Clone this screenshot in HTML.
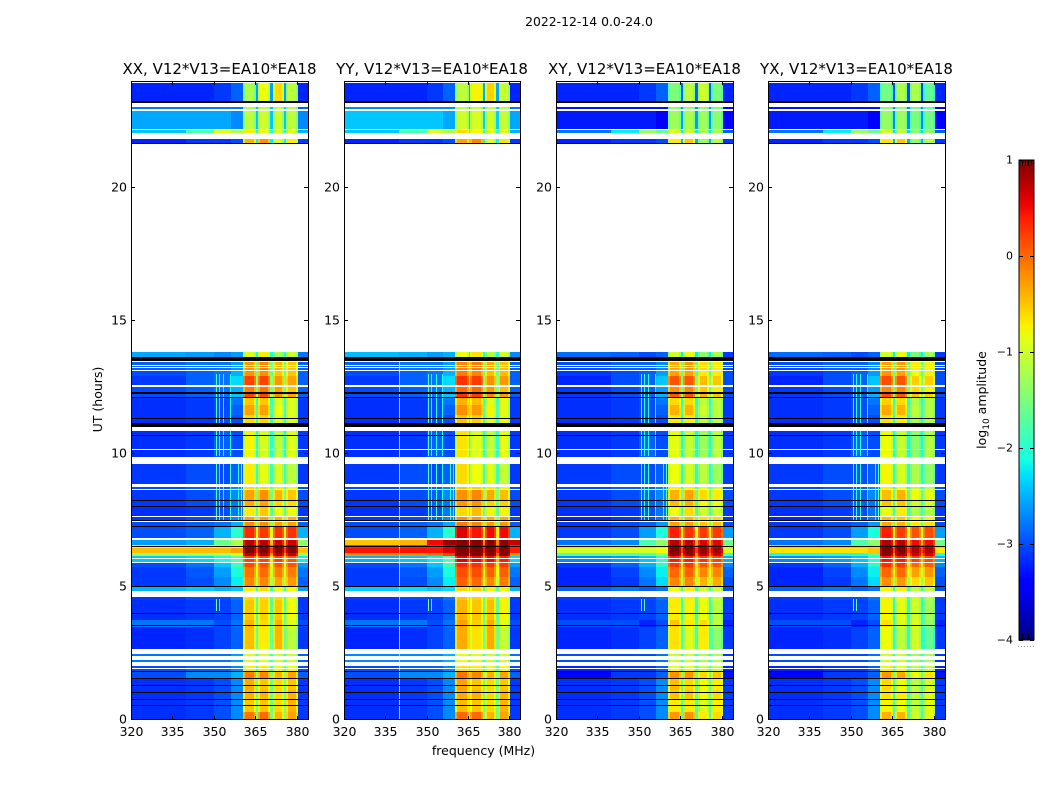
<!DOCTYPE html>
<html lang="en">
<head>
<meta charset="utf-8">
<title>2022-12-14 spectrogram</title>
<style>
html,body{margin:0;padding:0;background:#fff;}
#chart{display:block;width:1050px;height:800px;font-family:"DejaVu Sans","Liberation Sans",sans-serif;fill:#000;}
.cell{shape-rendering:crispEdges;}
</style>
</head>
<body>
<svg id="chart" xmlns="http://www.w3.org/2000/svg" width="1050" height="800" viewBox="0 0 1050 800">
  <defs>
    <linearGradient id="jet-gradient" x1="0" y1="1" x2="0" y2="0"></linearGradient>
  </defs>
  <text x="589" y="26" font-size="12.4" text-anchor="middle">2022-12-14 0.0-24.0</text>
  <text x="483.5" y="755" font-size="12.5" text-anchor="middle">frequency (MHz)</text>
  <text transform="translate(102 399.5) rotate(-90)" font-size="12.5" text-anchor="middle">UT (hours)</text>
  <g id="panels"></g>
  <g id="colorbar"></g>
</svg>
<script>
// ---------- axis data ----------
var panelTitles = ['XX, V12*V13=EA10*EA18', 'YY, V12*V13=EA10*EA18', 'XY, V12*V13=EA10*EA18', 'YX, V12*V13=EA10*EA18'];
var freqTicks = [320, 335, 350, 365, 380];
var hourTicks = [0, 5, 10, 15, 20];
var colorTicks = [1, 0, -1, -2, -3, -4];
var freqRange = [320, 384];
var hourRange = [0, 24];
var colorRange = [-4, 1];

// ---------- heatmap data: frequency segments (MHz) ----------
var segmentNames = ['low', 'lowmid', 'rfi', 'shoulder', 'band1', 'band2', 'band3', 'band4', 'gap', 'tail'];
var segmentStart = [320, 340, 350, 356, 360.5, 365.8, 371.2, 376.2, null, 380.4];
var segmentEnd = [340, 350, 356, 360.5, 365.3, 370.4, 375.4, 380.4, null, 384];
var gapStart = [365.3, 370.4, 375.4];
var gapEnd = [365.8, 371.2, 376.2];
// the passband edges read a little fainter than the passband centres
var bandEdgeDrop = -0.3;
var bandEdgeWidth = 0.7;

// ---------- time rows (UT hours) ----------
var rowStart = [0,.30,.75,1.13,1.54,1.80,2.03,2.48,2.67,3.49,3.76,4.51,4.62,5.00,5.37,5.75,5.90,6.16,6.27,6.46,6.57,6.76,6.84,7.25,7.44,7.66,8.04,8.26,8.64,8.86,9.61,9.88,10.85,11.12,11.46,11.83,12.13,12.24,12.54,12.92,13.11,13.48,21.67,22.05,22.16,22.91,23.25];
var rowEnd = [.30,.75,1.13,1.54,1.80,2.03,2.48,2.67,3.49,3.76,4.51,4.62,5.00,5.37,5.75,5.90,6.16,6.27,6.46,6.57,6.76,6.84,7.25,7.44,7.66,8.04,8.26,8.64,8.86,9.61,9.88,10.85,11.12,11.46,11.83,12.13,12.24,12.54,12.92,13.11,13.48,13.82,21.82,22.16,22.91,23.02,23.92];

// log10 amplitude per row, columns follow segmentNames (XX polarisation)
var levelsXX = [
[-3.15,-3.1,-3,-2.7,-.05,0,-.4,-.3,-1.5,-3.1],
[-3.15,-3.1,-3,-2.7,-.5,-.5,-.6,-.4,-1.5,-3.1],
[-3.15,-3.1,-3,-2.7,-.4,-.4,-.6,-.4,-1.5,-3.1],
[-3.15,-3.1,-3,-2.7,-.35,-.5,-.6,-.5,-1.5,-3.1],
[-3,-2.7,-2.7,-2.5,-.1,-.15,-.4,-.3,-1.4,-2.9],
[-3,-2.9,-2.9,-2.7,-.7,-.7,-.8,-.8,-1.7,-3],
[-2.8,-2.8,-2.8,-2.6,-.9,-.9,-1,-1,-1.8,-2.9],
[-3,-3,-2.9,-2.7,-.9,-.9,-1,-1,-1.8,-3],
[-3.2,-3.15,-3.05,-2.9,-.45,-.7,-.4,-1.1,-1.6,-3.1],
[-2.8,-2.8,-3,-2.8,-.4,-.6,-.4,-.9,-1.6,-3],
[-3.15,-3.1,-3.05,-2.9,-.5,-.55,-.5,-.8,-1.7,-3.1],
[-3.1,-3,-3,-2.8,-.6,-.6,-.6,-.8,-1.7,-3.1],
[-2.5,-2.4,-2.5,-2.4,-.7,-.6,-.8,-.8,-1.8,-2.6],
[-3.1,-3,-2.7,-2.2,-.15,-.15,-.3,-.25,-1.2,-2.9],
[-3.1,-2.95,-2.6,-2.1,-.05,0,-.1,-.1,-1,-2.8],
[-3,-2.8,-2.4,-1.9,.15,.15,.1,.1,-.8,-2.6],
[-2.4,-2.3,-2.1,-1.7,.2,.2,.2,.1,-.7,-2.2],
[-1.3,-1.3,-1.2,-.9,.8,.8,.8,.7,-.3,-1.3],
[-.45,-.45,-.45,-.3,1,1,1,.95,.2,-.5],
[-1,-1,-1,-.8,.95,.95,.95,.85,0,-1],
[-2.6,-2.5,-1.6,-1.2,.75,.75,.7,.65,-.5,-1.4],
[-2.9,-2.8,-2.5,-2.1,.5,.5,.45,.4,-.8,-2.4],
[-3,-2.9,-2.5,-2,.35,.25,.3,.3,-.9,-2.5],
[-3,-2.9,-2.8,-2.5,-.2,-.2,-.3,-.3,-1.4,-2.9],
[-3.1,-3,-2.9,-2.7,-.3,-.3,-.4,-.4,-1.5,-3],
[-3.15,-3.1,-3,-2.8,-.7,-.5,-.8,-.8,-1.7,-3.1],
[-3.1,-3,-2.9,-2.8,-.35,-.3,-.6,-.6,-1.6,-3],
[-3.1,-3,-2.9,-2.7,-.3,-.2,-.4,-.5,-1.5,-3],
[-3,-2.9,-2.9,-2.7,-.6,-.6,-.7,-.8,-1.7,-3],
[-3.1,-3,-3,-2.9,-.7,-.85,-.9,-1.1,-1.9,-3.1],
[-3,-2.9,-2.9,-2.9,-.7,-.85,-.9,-1.1,-1.9,-3],
[-3.15,-3.1,-2.9,-3,-.75,-.95,-1.1,-.9,-2,-3.1],
[-3,-2.9,-2.9,-2.9,-.75,-.7,-1,-.9,-2,-3],
[-3.15,-3.1,-3,-3,-.6,-.6,-.9,-.9,-1.9,-3.1],
[-3.15,-3.1,-3,-2.9,-.3,-.3,-.8,-.9,-1.8,-3.1],
[-3.15,-3.1,-3,-2.8,-.5,-.5,-.9,-.9,-1.9,-3.1],
[-3,-2.9,-2.8,-2.4,.2,.2,-.2,-.3,-1.3,-2.9],
[-3,-2.9,-2.8,-2.5,-.1,-.05,-.3,-.5,-1.5,-2.9],
[-3.1,-2.9,-2.8,-2.3,.2,.2,-.25,-.3,-1.4,-2.9],
[-3,-2.9,-2.8,-2.5,-.2,-.2,-.5,-.5,-1.6,-2.9],
[-2.9,-2.8,-2.8,-2.6,-.25,-.15,-.4,-.5,-1.6,-2.9],
[-2.55,-2.6,-2.7,-2.6,-.9,-.7,-1.2,-1,-2.1,-2.8],
[-3.2,-3.1,-3.1,-3,-.4,-.2,-.9,-.7,-2.2,-3.1],
[-2.4,-1.8,-.9,-1.2,-.7,-.8,-.9,-.9,-2,-2.5],
[-2.55,-2.55,-2.55,-2.7,-1.1,-1,-1,-1.1,-2.4,-2.7],
[-2.8,-2.8,-2.8,-2.8,-1.2,-1.1,-1.1,-1.2,-2.4,-2.9],
[-3.2,-3.2,-3.1,-2.9,-1.2,-.8,-.6,-1.1,-2.6,-3.2]
];

// per-row changes for the other polarisations (background, passband)
var backgroundDeltaYY = [0,0,0,0,0,0,.1,0,0,0,0,0,.1,0,0,0,-.1,1.1,.9,1.35,2.1,0,0,0,0,0,0,0,0,0,0,0,0,0,0,0,0,0,0,0,0,.1,0,0,.15,.1,0];
var bandDeltaYY = [0,0,0,0,0,0,0,0,.05,.05,.05,.05,.05,.15,.15,.15,.3,.3,.2,.2,.3,.3,.2,.05,.05,.05,.05,.05,.05,.05,.05,.05,.05,.05,.05,.05,.05,.05,.05,.05,.05,.05,.05,.05,.05,.05,.05];
var backgroundDeltaXY = [0,0,0,0,-.4,-.2,-.2,-.1,0,-.2,0,0,-.4,-.1,-.1,-.1,-.3,-.5,-.5,-.4,-.2,0,-.1,-.1,-.1,0,0,0,0,0,0,0,-.1,0,0,0,-.1,-.1,-.1,-.1,-.1,-.3,0,-.4,-.7,-.5,0];
var bandDeltaXY = [-.2,-.2,-.1,-.1,-.1,-.1,-.1,-.1,-.2,-.1,-.2,-.1,-.1,0,.05,.1,.2,.1,0,0,0,0,.05,-.1,-.1,-.1,-.1,-.1,-.1,-.1,-.1,-.1,-.1,-.1,-.1,-.1,-.1,-.1,-.1,-.1,-.1,-.1,-.3,-.2,-.2,-.2,-.3];
var backgroundDeltaYX = [0,0,0,0,-.4,-.2,-.2,-.1,0,-.2,0,0,-.4,-.1,-.1,-.1,-.3,-.8,-.2,-.7,-.2,0,-.1,-.1,-.1,0,0,0,0,0,0,0,-.1,0,0,0,-.1,-.1,-.1,-.1,-.1,-.3,0,-.4,-.7,-.5,0];
var bandDeltaYX = [-.4,-.3,-.3,-.3,-.2,-.1,-.1,-.1,-.4,-.3,-.3,-.2,-.1,-.1,0,.1,.2,.1,0,0,0,0,0,-.2,-.2,-.2,-.2,-.2,-.2,-.1,-.1,-.1,-.1,-.1,-.1,-.1,-.1,-.1,-.1,-.1,-.1,-.1,-.3,-.3,-.3,-.3,-.4];

// extra per-passband offset for each polarisation (band1..band4)
var channelOffsetXX = [0, 0, 0, 0];
var channelOffsetYY = [.05, 0, 0, 0];
var channelOffsetXY = [0, 0, -.1, -.1];
var channelOffsetYX = [.05, 0, -.2, -.15];

// ---------- narrow vertical interference lines ----------
var rfiFreq = [339.9, 350.7, 351.8, 353.3, 355.8, 358.7, 359.8, 350.7, 351.8, 350.7, 351.8, 353.3, 355.8];
var rfiStart = [0, 7.5, 7.5, 7.5, 7.5, 7.5, 7.5, 4.1, 4.1, 9.9, 9.9, 9.9, 9.9];
var rfiEnd = [13.5, 9.6, 9.6, 9.6, 9.6, 9.6, 9.6, 4.55, 4.55, 13, 13, 13, 13];
var rfiLevel = [-1.7, -1.8, -2, -1.9, -2, -2, -1.8, -1.5, -1.7, -1.8, -2, -2, -2.1];
var rfiPanelXX = [0, 1, 1, 1, 1, 1, 1, 1, 1, 1, 1, 1, 1];
var rfiPanelYY = [1, 1, 1, 1, 1, 1, 1, 1, 1, 1, 1, 1, 1];
var rfiPanelXY = [0, 1, 1, 1, 1, 1, 1, 1, 1, 1, 1, 1, 1];
var rfiPanelYX = [0, 1, 1, 1, 1, 1, 1, 1, 1, 1, 1, 1, 1];

// ---------- flagged time ranges (UT hours) ----------
var whiteStart = [1.90,2.03,2.27,2.48,4.62,5.88,6.07,6.76,7.42,7.65,8.62,8.75,9.63,10.16,10.85,12.50,12.56,13.10,13.21,13.32,13.45,13.82,21.82,22.15,22.89,23.04,23.92];
var whiteEnd = [1.935,2.18,2.385,2.65,4.83,5.92,6.10,6.82,7.46,7.68,8.66,8.86,9.86,10.19,11.0,12.54,12.60,13.13,13.24,13.35,13.48,21.62,22.05,22.18,22.93,23.17,24];
var blackStart = [.53,.755,1.035,1.295,1.565,1.805,3.555,3.985,4.985,6.505,7.255,7.495,8.025,8.225,10.675,11.0,11.115,11.325,12.09,12.24,13.48,21.62,23.17];
var blackEnd = [.56,.785,1.065,1.325,1.595,1.835,3.585,4.015,5.015,6.535,7.285,7.525,8.055,8.255,10.705,11.12,11.145,11.355,12.13,12.32,13.63,21.67,23.25];

// ---------- layout ----------
var panelLeft = [131, 344, 556, 768];
var panelWidth = [177, 176, 177, 177];
var panelTop = 81;
var panelBottom = 720;
var barLeft = 1019;
var barWidth = 15;
var barTop = 160;
var barBottom = 640;

var backgroundDeltas = [backgroundDeltaYY.map(function(){return 0;}), backgroundDeltaYY, backgroundDeltaXY, backgroundDeltaYX];
var bandDeltas = [bandDeltaYY.map(function(){return 0;}), bandDeltaYY, bandDeltaXY, bandDeltaYX];
var channelOffsets = [channelOffsetXX, channelOffsetYY, channelOffsetXY, channelOffsetYX];
var rfiPanels = [rfiPanelXX, rfiPanelYY, rfiPanelXY, rfiPanelYX];

// ---------- scales ----------
function xScale(p, f) { return panelLeft[p] + (f - freqRange[0]) / (freqRange[1] - freqRange[0]) * panelWidth[p]; }
function yScale(h) { return panelBottom - (h - hourRange[0]) / (hourRange[1] - hourRange[0]) * (panelBottom - panelTop); }
function barScale(v) { return barBottom - (v - colorRange[0]) / (colorRange[1] - colorRange[0]) * (barBottom - barTop); }
function interp(stops, t) {
  for (var i = 1; i < stops.length; i++) {
    if (t <= stops[i][0]) {
      var a = stops[i - 1], b = stops[i];
      return a[1] + (b[1] - a[1]) * (t - a[0]) / (b[0] - a[0]);
    }
  }
  return stops[stops.length - 1][1];
}
var jetRed = [[0,0],[.35,0],[.66,1],[.89,1],[1,.5]];
var jetGreen = [[0,0],[.125,0],[.375,1],[.64,1],[.91,0],[1,0]];
var jetBlue = [[0,.5],[.11,1],[.34,1],[.65,0],[1,0]];
function jet(t) {
  t = Math.max(0, Math.min(1, t));
  return 'rgb(' + Math.round(interp(jetRed, t) * 255) + ',' + Math.round(interp(jetGreen, t) * 255) + ',' + Math.round(interp(jetBlue, t) * 255) + ')';
}
function colorScale(v) { return jet((v - colorRange[0]) / (colorRange[1] - colorRange[0])); }

var NS = 'http://www.w3.org/2000/svg';
function make(tag, parent, attrs) {
  var el = document.createElementNS(NS, tag);
  for (var k in attrs) { el.setAttribute(k, attrs[k]); }
  parent.appendChild(el);
  return el;
}
function pixelRect(parent, x0, x1, h0, h1, fill) {
  var top = Math.round(yScale(h1)), bottom = Math.round(yScale(h0));
  var left = Math.round(x0), right = Math.round(x1);
  return make('rect', parent, {x: left, y: top, width: Math.max(1, right - left), height: Math.max(1, bottom - top), fill: fill, 'class': 'cell'});
}

var panelsGroup = document.getElementById('panels');

panelTitles.forEach(function(title, p) {
  var g = make('g', panelsGroup, {});
  
  
  var x0 = xScale(p, freqRange[0]), x1 = xScale(p, freqRange[1]);

  // heatmap cells
  rowStart.forEach(function(start, r) {
    var row = levelsXX[r];
    var bgDelta = backgroundDeltas[p][r];
    var bandDelta = bandDeltas[p][r];
    var values = [
      row[0] + bgDelta, row[1] + bgDelta, row[2] + bgDelta, row[3] + bgDelta,
      row[4] + bandDelta + channelOffsets[p][0], row[5] + bandDelta + channelOffsets[p][1],
      row[6] + bandDelta + channelOffsets[p][2], row[7] + bandDelta + channelOffsets[p][3],
      row[8] + bandDelta, row[9] + bgDelta
    ];
    segmentNames.forEach(function(name, s) {
      if (name === 'gap') {
        gapStart.forEach(function(gs, k) {
          var gapCell = pixelRect(g, xScale(p, gs), xScale(p, gapEnd[k]), start, rowEnd[r], colorScale(values[s]));
          
          
        });
      } else {
        var cell = pixelRect(g, xScale(p, segmentStart[s]), xScale(p, segmentEnd[s]), start, rowEnd[r], colorScale(values[s]));
        
        
        if (name.indexOf('band') === 0) {
          var edgeLeft = pixelRect(g, xScale(p, segmentStart[s]), xScale(p, segmentStart[s] + bandEdgeWidth), start, rowEnd[r], colorScale(values[s] + bandEdgeDrop));
          
          
          var edgeRight = pixelRect(g, xScale(p, segmentEnd[s] - bandEdgeWidth), xScale(p, segmentEnd[s]), start, rowEnd[r], colorScale(values[s] + bandEdgeDrop));
          
          
        }
      }
    });
  });

  // vertical interference lines
  rfiFreq.forEach(function(f, i) {
    if (!rfiPanels[p][i]) { return; }
    var line = pixelRect(g, xScale(p, f), xScale(p, f) + 1, rfiStart[i], rfiEnd[i], colorScale(rfiLevel[i]));
    
    
  });

  // flagged ranges
  whiteStart.forEach(function(s, i) {
    var band = pixelRect(g, x0, x1, s, whiteEnd[i], '#ffffff');
    
    
  });
  blackStart.forEach(function(s, i) {
    var band = pixelRect(g, x0, x1, s, blackEnd[i], '#000000');
    
    
  });

  // frame
  var frame = make('rect', g, {x: Math.round(x0) + .5, y: panelTop + .5, width: Math.round(x1) - Math.round(x0), height: panelBottom - panelTop - 1, fill: 'none', stroke: '#000', 'stroke-width': 1, 'class': 'cell'});
  
  

  // x ticks
  freqTicks.forEach(function(f) {
    var x = Math.round(xScale(p, f)) + .5;
    var t1 = make('line', g, {x1: x, x2: x, y1: panelBottom, y2: panelBottom - 4, stroke: '#000', 'class': 'cell'});
    
    
    var t2 = make('line', g, {x1: x, x2: x, y1: panelTop, y2: panelTop + 4, stroke: '#000', 'class': 'cell'});
    
    
    var label = make('text', g, {x: x, y: panelBottom + 16, 'font-size': 12.5, 'text-anchor': 'middle'});
    
    
    label.textContent = f;
  });

  // y ticks
  hourTicks.forEach(function(h) {
    var y = Math.round(yScale(h)) - .5;
    var t1 = make('line', g, {x1: x0, x2: x0 + 4, y1: y, y2: y, stroke: '#000', 'class': 'cell'});
    
    
    var t2 = make('line', g, {x1: x1, x2: x1 - 4, y1: y, y2: y, stroke: '#000', 'class': 'cell'});
    
    
    var label = make('text', g, {x: x0 - 4, y: y + 4, 'font-size': 12.5, 'text-anchor': 'end'});
    
    
    label.textContent = h;
  });

  var titleEl = make('text', g, {x: (x0 + x1) / 2, y: panelTop - 7, 'font-size': 15, 'text-anchor': 'middle'});
  
  
  titleEl.textContent = title;
});

// ---------- colorbar ----------
var barGroup = document.getElementById('colorbar');
var gradient = document.getElementById('jet-gradient');
for (var i = 0; i <= 32; i++) {
  make('stop', gradient, {offset: (i / 32 * 100) + '%', 'stop-color': jet(i / 32)});
}
var barFill = make('rect', barGroup, {x: barLeft, y: barTop, width: barWidth, height: barBottom - barTop, fill: 'url(#jet-gradient)', stroke: '#000', 'stroke-width': 1, 'class': 'cell'});



colorTicks.forEach(function(v) {
  var y = Math.round(barScale(v)) + .5;
  var t1 = make('line', barGroup, {x1: barLeft, x2: barLeft + 4, y1: y, y2: y, stroke: '#000', 'class': 'cell'});
  
  
  var t2 = make('line', barGroup, {x1: barLeft + barWidth, x2: barLeft + barWidth - 4, y1: y, y2: y, stroke: '#000', 'class': 'cell'});
  
  
  var label = make('text', barGroup, {x: barLeft - 6, y: y + 3, 'font-size': 11, 'text-anchor': 'end'});
  
  
  label.textContent = v < 0 ? '\u2212' + Math.abs(v) : String(v);
});

var minorTickOffsets = [3, 6, 9, 12];
minorTickOffsets.forEach(function(dx) {
  var top = make('line', barGroup, {x1: barLeft + dx + .5, x2: barLeft + dx + .5, y1: barTop, y2: barTop + 6, stroke: '#000', 'class': 'cell'});
  
  
  var bottom = make('line', barGroup, {x1: barLeft + dx + .5, x2: barLeft + dx + .5, y1: barBottom, y2: barBottom - 6, stroke: '#000', 'class': 'cell'});
  
  
});

var dotOffsets = [-1, 2, 5, 8, 11, 14];
dotOffsets.forEach(function(dx) {
  var dot = make('rect', barGroup, {x: barLeft + dx, y: 646, width: 1, height: 1, fill: '#999', 'class': 'cell'});
  
  
});

var barLabel = make('text', barGroup, {transform: 'translate(986 400) rotate(-90)', 'font-size': 12.5, 'text-anchor': 'middle'});


var logPart = make('tspan', barLabel, {});
logPart.textContent = 'log';
var subPart = make('tspan', barLabel, {dy: 3, 'font-size': 9});
subPart.textContent = '10';
var ampPart = make('tspan', barLabel, {dy: -3});
ampPart.textContent = ' amplitude';
</script>
</body>
</html>
